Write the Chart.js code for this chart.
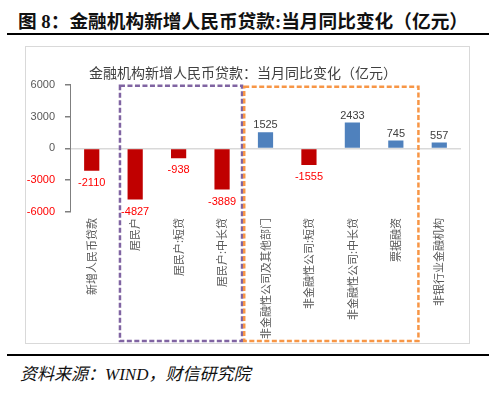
<!DOCTYPE html>
<html>
<head>
<meta charset="utf-8">
<script src="https://cdn.jsdelivr.net/npm/chart.js@4/dist/chart.umd.min.js"></script>
<style>
  body { margin: 0; width: 500px; height: 394px; background: #fff; position: relative; overflow: hidden; }
  .fig-title { position: absolute; left: 18px; top: 6px; font: bold 18.7px "Liberation Serif", "Noto Sans CJK SC"; color: #111; white-space: nowrap; }
  .rule { position: absolute; left: 7px; width: 482px; height: 2px; background: #000; }
  .chart-box { position: absolute; left: 25px; top: 46px; width: 445px; height: 298px; box-sizing: border-box; border: 1px solid #d9d9d9; }
  #loanChart { position: absolute; left: 25px; top: 46px; }
  .source { position: absolute; left: 20px; top: 360px; font: italic 17px "Liberation Serif", "Noto Sans CJK SC"; color: #111; white-space: nowrap; }
</style>
</head>
<body>
<div class="fig-title">图 8：金融机构新增人民币贷款:当月同比变化（亿元）</div>
<div class="rule" style="top:33px"></div>
<div class="chart-box"></div>
<canvas id="loanChart" width="445" height="298"></canvas>
<div class="rule" style="top:354px"></div>
<div class="source">资料来源：WIND，财信研究院</div>

<script>
const categories = [
    '新增人民币贷款',
    '居民户',
    '居民户:短贷',
    '居民户:中长贷',
    '非金融性公司及其他部门',
    '非金融性公司:短贷',
    '非金融性公司:中长贷',
    '票据融资',
    '非银行业金融机构'
];
const changes = [-2110, -4827, -938, -3889, 1525, -1555, 2433, 745, 557];
const yTicks = [-6000, -3000, 0, 3000, 6000];

// dashed boxes grouping the household / corporate items (in category units)
const boxGroups = [
    { from: 0.65, to: 3.46, color: '#8064A2' },
    { from: 3.51, to: 7.52, color: '#F79646' }
];

const RED = '#C00000';
const BLUE = '#4F81BD';
const LABEL_RED = '#FF0000';
const GREY = '#595959';

const barLabels = {
    id: 'barLabels',
    afterDatasetsDraw(chart) {
        const ctx = chart.ctx;
        const meta = chart.getDatasetMeta(0);
        ctx.save();
        ctx.font = '11px "Liberation Sans"';
        ctx.textAlign = 'center';
        ctx.textBaseline = 'middle';
        meta.data.forEach((bar, i) => {
            const v = changes[i];
            ctx.fillStyle = v < 0 ? LABEL_RED : '#404040';
            ctx.fillText(String(v), bar.x, v < 0 ? bar.y + 12 : bar.y - 7);
        });
        ctx.restore();
    }
};

const groupBoxes = {
    id: 'groupBoxes',
    afterDraw(chart) {
        const ctx = chart.ctx;
        const x = chart.scales.x;
        const top = chart.chartArea.top;
        const bottom = chart.height - 3;
        ctx.save();
        ctx.lineWidth = 2.5;
        ctx.setLineDash([5, 2.5]);
        boxGroups.forEach((g, i) => {
            const left = x.getPixelForValue(g.from);
            const right = x.getPixelForValue(g.to);
            ctx.strokeStyle = g.color;
            ctx.strokeRect(left, top + 1 + i, right - left, bottom - top - 1 - i);
        });
        ctx.restore();
    }
};

function createLoanChart() {
    const ctx = document.getElementById('loanChart').getContext('2d');
    new Chart(ctx, {
        type: 'bar',
        data: {
            labels: categories,
            datasets: [{
                label: '当月同比变化',
                data: changes,
                backgroundColor: changes.map(v => v < 0 ? RED : BLUE),
                barPercentage: 0.35,
                categoryPercentage: 1
            }]
        },
        options: {
            responsive: false,
            animation: false,
            layout: { padding: { left: 0, right: 9, top: 0, bottom: 0 } },
            plugins: {
                legend: { display: false },
                tooltip: { enabled: false },
                title: {
                    display: true,
                    text: '金融机构新增人民币贷款：当月同比变化（亿元）',
                    color: '#404040',
                    font: { family: '"Noto Sans CJK SC"', size: 14, weight: 'normal', lineHeight: 1.2 },
                    padding: { top: 18, bottom: 4 }
                }
            },
            scales: {
                x: {
                    grid: { display: false, drawTicks: false },
                    border: { display: false },
                    ticks: {
                        autoSkip: false,
                        maxRotation: 90,
                        minRotation: 90,
                        padding: 6,
                        color: GREY,
                        font: { family: '"Noto Sans CJK SC"', size: 11 }
                    },
                    afterFit: scale => { scale.height = 132; }
                },
                y: {
                    min: yTicks[0],
                    max: yTicks[yTicks.length - 1],
                    afterBuildTicks: scale => { scale.ticks = yTicks.map(v => ({ value: v })); },
                    grid: {
                        color: c => c.tick && c.tick.value === 0 ? '#d9d9d9' : 'rgba(0,0,0,0)',
                        lineWidth: 1.5,
                        tickColor: '#7f7f7f',
                        tickLength: 5
                    },
                    border: { display: true, color: '#7f7f7f', width: 1 },
                    ticks: {
                        padding: 10,
                        callback: v => String(v),
                        color: c => c.tick.value < 0 ? LABEL_RED : GREY,
                        font: { family: '"Liberation Sans"', size: 11 }
                    },
                    afterFit: scale => { scale.width = 45; }
                }
            }
        },
        plugins: [barLabels, groupBoxes]
    });
}

createLoanChart();
</script>
</body>
</html>
